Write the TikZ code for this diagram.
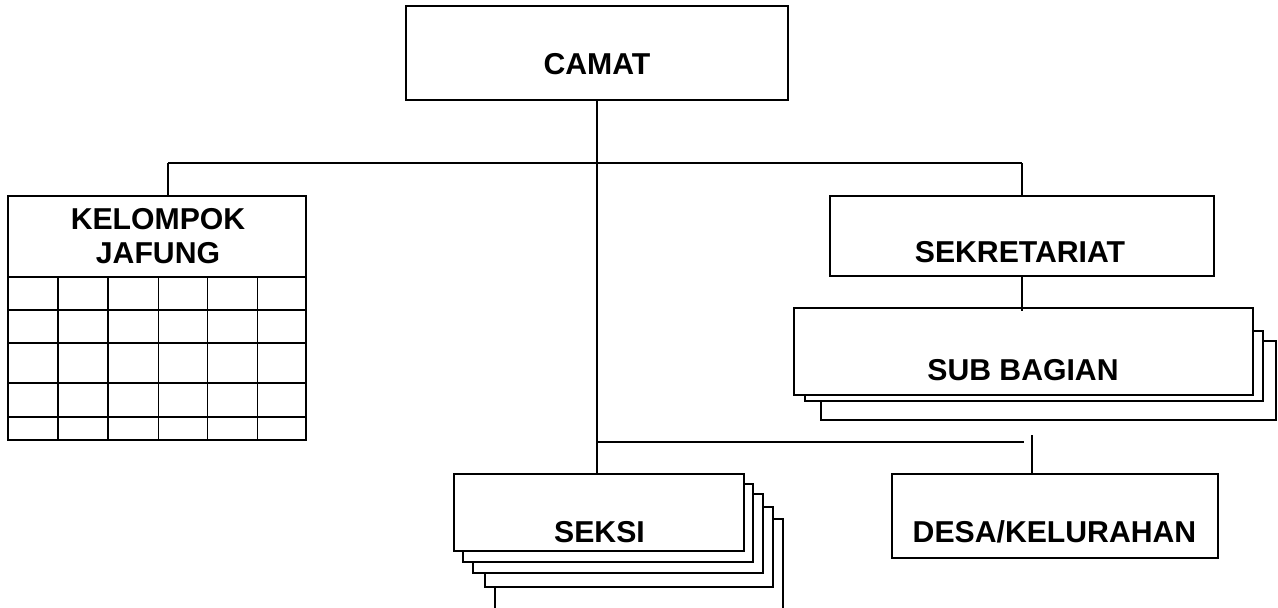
\documentclass[tikz,border=0pt]{standalone}
\usepackage{fontspec}
\setmainfont{Liberation Sans}
\begin{document}
\begin{tikzpicture}[x=1pt,y=-1pt,
  ln/.style={line width=1.6pt},
  box/.style={draw, line width=1.6pt, fill=white, inner sep=0pt},
  lbl/.style={font=\fontsize{30.2}{36}\selectfont\bfseries, anchor=base, inner sep=0pt},
  grid/.style={line width=1.6pt}]
\useasboundingbox (0,0) rectangle (1278,608);
% connector points
\coordinate (bL) at (168,163);
\coordinate (bR) at (1022,163);
\coordinate (b2L) at (597,442);
\coordinate (b2R) at (1024,442);
\coordinate (dtop) at (1032,435);
% boxes (back to front)
\node[box, minimum width=382pt, minimum height=94pt] (camat) at (597,53) {};
\node[box, minimum width=298pt, minimum height=244pt] (kel) at (157,318) {};
\node[box, minimum width=384pt, minimum height=80pt] (sek) at (1022,236) {};
\node[box, minimum width=455pt, minimum height=79pt] (sub3) at (1048.5,380.5) {};
\node[box, minimum width=458pt, minimum height=70pt] (sub2) at (1034,366) {};
\node[box, minimum width=459pt, minimum height=87pt] (sub) at (1023.5,351.5) {};
\node[box, minimum width=288pt, minimum height=106pt] (s5) at (639,572) {};
\node[box, minimum width=288pt, minimum height=80pt] (s4) at (629,547) {};
\node[box, minimum width=290pt, minimum height=79pt] (s3) at (618,533.5) {};
\node[box, minimum width=290pt, minimum height=78pt] (s2) at (608,523) {};
\node[box, minimum width=290pt, minimum height=77pt] (seksi) at (599,512.5) {};
\node[box, minimum width=326pt, minimum height=84pt] (desa) at (1055,516) {};
% connectors
\draw[ln] (camat.south) -- (camat.south |- seksi.north);
\draw[ln] (bL) -- (bR);
\draw[ln] (bL) -- (bL |- kel.north);
\draw[ln] (bR) -- (bR |- sek.north);
\draw[ln] (sek.south) -- ([yshift=-4pt]sek.south |- sub.north);
\draw[ln] (b2L) -- (b2R);
\draw[ln] (dtop) -- (dtop |- desa.north);
% grid in KELOMPOK JAFUNG
\foreach \y in {277,310,343,383,417} \draw[grid] (kel.west |- {0,\y}) -- (kel.east |- {0,\y});
\foreach \x in {57.7,107.7,158.3,207.3,257.3} \draw[grid] (\x,277) -- ({\x,0} |- kel.south);
% labels
\node[lbl] (tcamat) at (597,74) {CAMAT};
\node[lbl] (tkel1) at (158,229) {KELOMPOK};
\node[lbl] (tkel2) at (158,263) {JAFUNG};
\node[lbl] (tsek) at (1020,262) {SEKRETARIAT};
\node[lbl] (tsub) at (1023,380) {SUB BAGIAN};
\node[lbl] (tseksi) at (599.5,542) {SEKSI};
\node[lbl] (tdesa) at (1054.5,542) {DESA/KELURAHAN};
\end{tikzpicture}
\end{document}
